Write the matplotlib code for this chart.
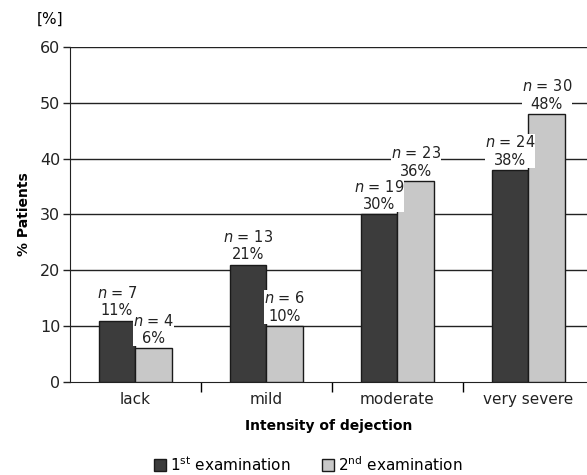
import numpy as np
import matplotlib
matplotlib.use('Agg')
import matplotlib.pyplot as plt
from matplotlib.patches import Patch

# data
categories = ['lack', 'mild', 'moderate', 'very severe']
first_pct = [11, 21, 30, 38]
second_pct = [6, 10, 36, 48]
first_n = [7, 13, 19, 24]
second_n = [4, 6, 23, 30]

dark = '#3c3c3c'
light = '#c8c8c8'
edge = '#1a1a1a'

fig = plt.figure(figsize=(5.87, 4.75), dpi=100)
ax = fig.add_axes([0.119, 0.196, 0.881, 0.705])

x = np.arange(len(categories))
w = 0.28
ax.bar(x - w / 2, first_pct, w, color=dark, edgecolor=edge, linewidth=1, zorder=3)
ax.bar(x + w / 2, second_pct, w, color=light, edgecolor=edge, linewidth=1, zorder=3)

# horizontal grid lines
for yv in range(10, 61, 10):
    ax.axhline(yv, color='#222222', linewidth=1, zorder=1)

# bar labels with white background to cut the grid
def put_label(xc, val, n):
    ax.text(xc, val + 0.4, '$n$ = %d\n%d%%' % (n, val), ha='center', va='bottom',
            fontsize=10.5, linespacing=1.2, color='#222222', zorder=4,
            bbox=dict(facecolor='white', edgecolor='none', pad=0.0))

for i in range(len(categories)):
    put_label(x[i] - w / 2, first_pct[i], first_n[i])
    put_label(x[i] + w / 2, second_pct[i], second_n[i])

ax.set_ylim(0, 60)
ax.set_xlim(-0.5, 3.447)
ax.set_yticks(range(0, 61, 10))
ax.tick_params(axis='y', labelsize=11.5, length=5, width=1, colors='#222222', pad=2)

# ticks at group boundaries, labels at centres
ax.set_xticks([0.5, 1.5, 2.5])
ax.set_xticklabels([])
ax.tick_params(axis='x', which='major', length=7, width=1, direction='out')
ax.set_xticks(x, minor=True)
ax.set_xticklabels(categories, minor=True)
ax.tick_params(axis='x', which='minor', length=0, labelsize=11, pad=7, colors='#222222')

for s in ['top', 'right']:
    ax.spines[s].set_visible(False)
ax.spines['left'].set_color('#222222')
ax.spines['bottom'].set_color('#222222')

ax.set_xlabel('Intensity of dejection', fontsize=10, fontweight='bold', labelpad=9)
ax.set_ylabel('% Patients', fontsize=10, fontweight='bold', labelpad=6)
ax.text(-0.038, 1.06, '[%]', transform=ax.transAxes, ha='center', va='bottom', fontsize=11)

handles = [Patch(facecolor=dark, edgecolor=edge, label='1$^{\\mathrm{st}}$ examination'),
           Patch(facecolor=light, edgecolor=edge, label='2$^{\\mathrm{nd}}$ examination')]
fig.legend(handles=handles, loc='lower center', bbox_to_anchor=(0.525, -0.026), ncol=2,
           frameon=False, fontsize=11, handlelength=0.8, handleheight=0.8,
           handletextpad=0.3, columnspacing=2.0)

plt.savefig('out.png', dpi=100)
